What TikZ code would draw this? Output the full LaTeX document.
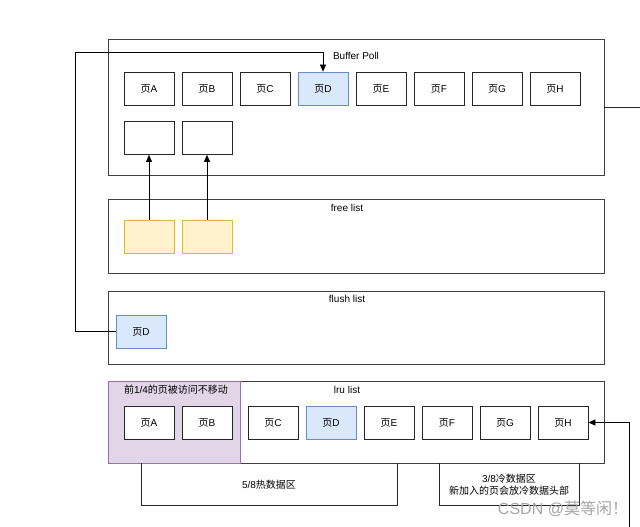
\documentclass[tikz,border=0pt]{standalone}
\usepackage{fontspec}
\setmainfont{Liberation Sans}
\newfontfamily\cjk{Noto Sans CJK SC}
\usetikzlibrary{arrows.meta}
\definecolor{bluefill}{HTML}{DAE8FC}
\definecolor{bluedraw}{HTML}{6C8EBF}
\definecolor{yelfill}{HTML}{FFF2CC}
\definecolor{yeldraw}{HTML}{D6B656}
\definecolor{purfill}{HTML}{E1D5E7}
\definecolor{purdraw}{HTML}{9673A6}
\begin{document}
\begin{tikzpicture}[x=1pt,y=-1pt,
  container/.style={draw=black!75, line width=0.8pt, fill=white, minimum width=496pt, inner sep=0pt},
  pagebox/.style={draw=black!85, line width=0.7pt, fill=white, minimum width=50pt, minimum height=33pt, inner sep=0pt, font=\fontsize{10}{12}\selectfont},
  bluepage/.style={pagebox, fill=bluefill, draw=bluedraw},
  yelpage/.style={pagebox, fill=yelfill, draw=yeldraw},
  lbl/.style={font=\fontsize{10}{12}\selectfont, inner sep=0pt},
  arr/.style={draw=black, line width=0.7pt, -{Triangle[length=7pt,width=6pt]}},
  wire/.style={draw=black!85, line width=0.8pt}
]
\useasboundingbox (0,0) rectangle (640,527);

% containers
\node[container, minimum height=136pt] (pool) at (356,107) {};
\node[lbl] (poollbl) at (356,56) {Buffer Poll};
\node[container, minimum height=74pt] (free) at (356,236) {};
\node[lbl] (freelbl) at (347,208) {free list};
\node[container, minimum height=73pt] (flush) at (356,327.5) {};
\node[lbl] (flushlbl) at (347,299) {flush list};
\node[container, minimum height=82pt] (lru) at (356,422) {};
\node[draw=purdraw, fill=purfill, line width=0.8pt, minimum width=132pt, minimum height=82pt, inner sep=0pt] (hotfix) at (174,422) {};
\node[lbl] (hotlbl) at (176,390) {{\cjk 前}1/4{\cjk 的页被访问不移动}};
\node[lbl] (lrulbl) at (347,390) {lru list};

% buffer pool pages
\node[pagebox] (bA) at (149,88.5) {{\cjk 页}A};
\node[pagebox] (bB) at (207,88.5) {{\cjk 页}B};
\node[pagebox] (bC) at (265,88.5) {{\cjk 页}C};
\node[bluepage] (bD) at (323,88.5) {{\cjk 页}D};
\node[pagebox] (bE) at (381,88.5) {{\cjk 页}E};
\node[pagebox] (bF) at (439,88.5) {{\cjk 页}F};
\node[pagebox] (bG) at (497,88.5) {{\cjk 页}G};
\node[pagebox] (bH) at (555,88.5) {{\cjk 页}H};
\node[pagebox] (e1) at (149,138) {};
\node[pagebox] (e2) at (207,138) {};

% free list
\node[yelpage] (y1) at (149,236.5) {};
\node[yelpage] (y2) at (207,236.5) {};

% flush list
\node[bluepage] (fD) at (141,331.5) {{\cjk 页}D};

% lru list
\node[pagebox] (lA) at (149,422.5) {{\cjk 页}A};
\node[pagebox] (lB) at (207,422.5) {{\cjk 页}B};
\node[pagebox] (lC) at (273,422.5) {{\cjk 页}C};
\node[bluepage] (lD) at (331,422.5) {{\cjk 页}D};
\node[pagebox] (lE) at (389,422.5) {{\cjk 页}E};
\node[pagebox] (lF) at (447,422.5) {{\cjk 页}F};
\node[pagebox] (lG) at (505,422.5) {{\cjk 页}G};
\node[pagebox] (lH) at (563,422.5) {{\cjk 页}H};

% brackets
\coordinate (h1) at (141,463);
\coordinate (h2) at (397,463);
\draw[wire] (h1) |- (397,505) -- (h2);
\node[lbl] (hottxt) at (269,485) {5/8{\cjk 热数据区}};
\coordinate (c1) at (439,463);
\coordinate (c2) at (579,463);
\draw[wire] (c1) |- (579,505) -- (c2);
\node[lbl, align=center, font=\fontsize{10}{12}\selectfont] (coldtxt) at (509,485) {3/8{\cjk 冷数据区}\\{\cjk 新加入的页会放冷数据头部}};

% connectors
\draw[arr] (y1.north) -- (e1.south);
\draw[arr] (y2.north) -- (e2.south);
\draw[arr] (fD.west) -| (75,52) -| (bD.north);
\coordinate (outR) at (640,107);
\draw[wire] (pool.east) -- (outR);
\coordinate (inR) at (629,527);
\draw[arr] (inR) |- (lH.east);

% watermark
\node[font=\fontsize{16}{18}\selectfont, text=black!35, inner sep=0pt] (wm) at (563,509) {CSDN @{\cjk 莫等闲！}};
\end{tikzpicture}
\end{document}
